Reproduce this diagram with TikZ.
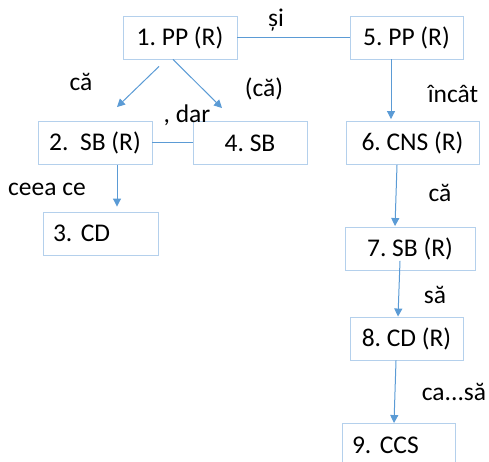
\documentclass[tikz,border=0pt]{standalone}
\usepackage{fontspec}
\setmainfont{Carlito}
\usetikzlibrary{arrows.meta}
\definecolor{boxblue}{RGB}{180,208,236}
\definecolor{linkblue}{RGB}{91,155,213}
\begin{document}
\frenchspacing
\begin{tikzpicture}[x=1pt,y=-1pt,
  every node/.style={font=\fontsize{25.5}{30}\selectfont\frenchspacing, inner sep=0pt},
  box/.style={draw=boxblue, line width=0.9pt, minimum height=43pt},
  link/.style={draw=linkblue, line width=1pt},
  arr/.style={link, -{Triangle[length=8pt,width=8pt]}}]
\useasboundingbox (0,0) rectangle (489,462);
\clip (0,0) rectangle (489,462);
\node[box, minimum width=114pt] (b1) at (180,37.5) {1. PP (R)};
\node[box, minimum width=113pt] (b5) at (406.5,37.5) {5. PP (R)};
\node[box, minimum width=114pt] (b2) at (95,143) {2.\ \ SB (R)};
\node[box, minimum width=114pt] (b4) at (250,143) {4. SB};
\node[box, minimum width=133pt] (b6) at (412.5,143) {6. CNS (R)};
\node[box, minimum width=115pt, text width=95pt, align=left] (b3) at (100.5,233.5) {3. CD};
\node[box, minimum width=130pt] (b7) at (410,249) {7. SB (R)};
\node[box, minimum width=113pt] (b8) at (406.5,338.5) {8. CD (R)};
\node[box, minimum width=113pt, text width=93pt, align=left] (b9) at (398.5,445) {9. CCS};
\draw[link] (b1) -- (b5);
\draw[link] (b2) -- (b4);
\draw[arr] ([xshift=-21pt,yshift=-7pt]b1.south) -- ([xshift=22pt,yshift=14pt]b2.north);
\draw[arr] ([xshift=-7pt]b1.south) -- ([xshift=-28pt,yshift=13pt]b4.north);
\draw[arr] ([xshift=22pt]b2.south) -- ([xshift=16.5pt,yshift=5pt]b3.north);
\draw[arr] ([xshift=-15.5pt]b5.south) -- ([xshift=-21.5pt,yshift=2pt]b6.north);
\draw[arr] ([xshift=-15.5pt]b6.south) -- ([xshift=-15pt,yshift=1pt]b7.north);
\draw[arr] ([xshift=-10pt,yshift=10pt]b7.south) -- ([xshift=-8.5pt]b8.north);
\draw[arr] ([xshift=-10.5pt]b8.south) -- ([xshift=-4.5pt]b9.north);
\node (l1) at (276,20) {și};
\node (l2) at (81,82) {că};
\node (l3) at (264,89) {(că)};
\node (l4) at (187,115) {, dar};
\node (l5) at (453,94) {încât};
\node (l6) at (47,189) {ceea ce};
\node (l7) at (440,193) {că};
\node (l8) at (435,295) {să};
\node (l9) at (454,392) {ca...să};
\end{tikzpicture}
\end{document}
